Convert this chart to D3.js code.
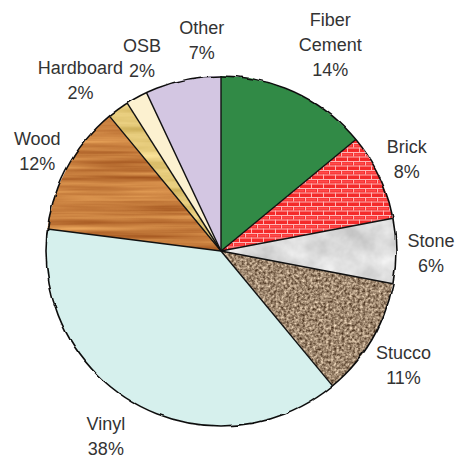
<!DOCTYPE html>
<html>
<head>
<meta charset="utf-8">
<script src="https://cdn.jsdelivr.net/npm/d3@7"></script>
<style>
  html, body { margin: 0; padding: 0; background: #fff; }
  svg { display: block; }
  text { font-family: "Liberation Sans", Arial, Helvetica, sans-serif; font-size: 18px; fill: #333; }
</style>
</head>
<body>
<svg id="chart" width="456" height="462"></svg>
<script>
// Siding material market share (percent), clockwise from 12 o'clock
const categories = ["Fiber Cement", "Brick", "Stone", "Stucco", "Vinyl", "Wood", "Hardboard", "OSB", "Other"];
const shares = [14, 8, 6, 11, 38, 12, 2, 2, 7];
const labelLines = [["Fiber", "Cement"], ["Brick"], ["Stone"], ["Stucco"], ["Vinyl"], ["Wood"], ["Hardboard"], ["OSB"], ["Other"]];

// Fill for each slice: a flat colour, a pattern id, or a texture filter id
const fills = {
  "Fiber Cement": { color: "#318a46" },
  "Brick": { pattern: "brick" },
  "Stone": { texture: "stoneTex" },
  "Stucco": { texture: "stuccoTex" },
  "Vinyl": { color: "#d6f0ed" },
  "Wood": { texture: "woodTex" },
  "Hardboard": { texture: "hardboardTex" },
  "OSB": { color: "#fcf1d0" },
  "Other": { color: "#d3c6e2" }
};

// Small shifts of each label block away from its default spot on the label ring
const labelNudge = {
  "Fiber Cement": [19, -15], "Brick": [-6, -2], "Stone": [-2, 2], "Stucco": [0, 6],
  "Vinyl": [-13, -1], "Wood": [2, 2], "Hardboard": [-16, 0], "OSB": [23, -7], "Other": [27, -4]
};

const cx = 221, cy = 251, radius = 175, labelRadius = 212, lineGap = 25;

const svg = d3.select("#chart");
svg.append("rect").attr("width", 456).attr("height", 462).attr("fill", "#fff");
const defs = svg.append("defs");

// Brick: red courses with pale mortar joints, alternate rows offset by half a brick
const brick = defs.append("pattern").attr("id", "brick")
  .attr("patternUnits", "userSpaceOnUse").attr("width", 12).attr("height", 9);
brick.append("rect").attr("width", 12).attr("height", 9).attr("fill", "#f42a2a");
brick.append("rect").attr("x", 1).attr("y", 1.5).attr("width", 10).attr("height", 2).attr("fill", "#ff4a4a");
brick.append("rect").attr("y", 0).attr("width", 12).attr("height", 1).attr("fill", "#ffb4b4");
brick.append("rect").attr("y", 4.5).attr("width", 12).attr("height", 1).attr("fill", "#ffb4b4");
brick.append("rect").attr("x", 0).attr("y", 0).attr("width", 1).attr("height", 4.5).attr("fill", "#ffb4b4");
brick.append("rect").attr("x", 6).attr("y", 4.5).attr("width", 1).attr("height", 4.5).attr("fill", "#ffb4b4");

// Turbulence-based surface textures, computed in sRGB so the matrices map straight to colours
function texture(id, freq, octaves, matrix, seed) {
  const f = defs.append("filter").attr("id", id)
    .attr("filterUnits", "userSpaceOnUse")
    .attr("color-interpolation-filters", "sRGB")
    .attr("x", -500).attr("y", -500).attr("width", 1000).attr("height", 1000);
  f.append("feTurbulence").attr("type", "fractalNoise").attr("baseFrequency", freq)
    .attr("numOctaves", octaves).attr("seed", seed).attr("result", "n");
  f.append("feColorMatrix").attr("in", "n").attr("type", "matrix").attr("values", matrix);
}
texture("woodTex", "0.006 0.16", 3,
  "0.40 0 0 0 0.59  0.45 0 0 0 0.28  0.34 0 0 0 0.08  0 0 0 0 1", 4);
texture("hardboardTex", "0.01 0.12", 3,
  "0.25 0 0 0 0.77  0.28 0 0 0 0.65  0.35 0 0 0 0.30  0 0 0 0 1", 7);
texture("stuccoTex", "0.38", 2,
  "1.0 0 0 0 0.12  1.0 0 0 0 0.03  0.95 0 0 0 -0.04  0 0 0 0 1", 2);
texture("stoneTex", "0.035", 4,
  "0.30 0 0 0 0.71  0.30 0 0 0 0.71  0.30 0 0 0 0.71  0 0 0 0 1", 11);

// Slightly wavering outer rim
const rough = defs.append("filter").attr("id", "rough")
  .attr("x", "-10%").attr("y", "-10%").attr("width", "120%").attr("height", "120%");
rough.append("feTurbulence").attr("type", "fractalNoise").attr("baseFrequency", 0.06)
  .attr("numOctaves", 2).attr("seed", 3).attr("result", "n");
rough.append("feDisplacementMap").attr("in", "SourceGraphic").attr("in2", "n")
  .attr("scale", 3).attr("xChannelSelector", "R").attr("yChannelSelector", "G");

const data = categories.map((c, i) => ({ name: c, value: shares[i], lines: labelLines[i] }));
const pie = d3.pie().value(d => d.value).sort(null).startAngle(0).endAngle(2 * Math.PI);
const arcs = pie(data);
const arc = d3.arc().innerRadius(0).outerRadius(radius);

const g = svg.append("g").attr("transform", `translate(${cx},${cy})`);

arcs.forEach((a, i) => {
  const spec = fills[a.data.name];
  if (spec.texture) {
    const clipId = "clip" + i;
    defs.append("clipPath").attr("id", clipId).append("path").attr("d", arc(a));
    g.append("rect").attr("x", -cx).attr("y", -cy).attr("width", 456).attr("height", 462)
      .attr("filter", `url(#${spec.texture})`).attr("clip-path", `url(#${clipId})`);
  } else {
    g.append("path").attr("d", arc(a))
      .attr("fill", spec.pattern ? `url(#${spec.pattern})` : spec.color);
  }
});

// Radial dividers between slices
g.selectAll("line.divider").data(arcs).join("line")
  .attr("class", "divider")
  .attr("x1", 0).attr("y1", 0)
  .attr("x2", d => radius * Math.sin(d.startAngle))
  .attr("y2", d => -radius * Math.cos(d.startAngle))
  .attr("stroke", "#111").attr("stroke-width", 1.4);

// Outer rim
g.append("circle").attr("r", radius).attr("fill", "none")
  .attr("stroke", "#111").attr("stroke-width", 1.6).attr("filter", "url(#rough)");

// Labels: name lines followed by the percentage
arcs.forEach(a => {
  const mid = (a.startAngle + a.endAngle) / 2;
  const nudge = labelNudge[a.data.name];
  const x = labelRadius * Math.sin(mid) + nudge[0];
  const y = -labelRadius * Math.cos(mid) + nudge[1];
  const lines = a.data.lines.concat([d3.format("d")(a.data.value) + "%"]);
  const capH = 13;
  const blockH = capH + (lines.length - 1) * lineGap;
  const firstBase = y - blockH / 2 + capH;
  const t = g.append("text").attr("text-anchor", "middle");
  lines.forEach((ln, k) => {
    t.append("tspan").attr("x", x).attr("y", firstBase + k * lineGap).text(ln);
  });
});
</script>
</body>
</html>
